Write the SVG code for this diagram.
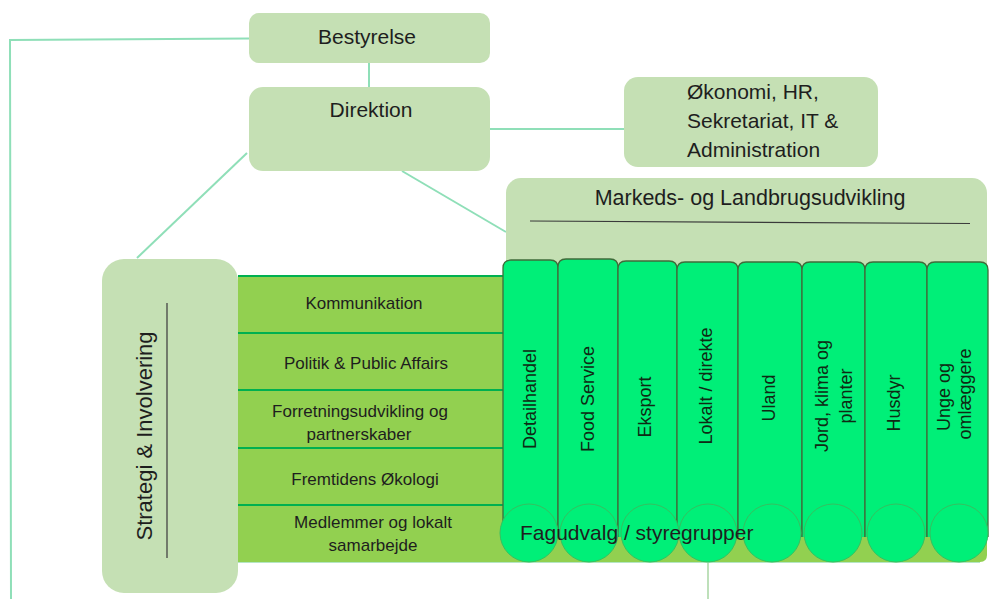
<svg xmlns="http://www.w3.org/2000/svg" width="989" height="599" viewBox="0 0 989 599">
<style>
.box{fill:#c5e0b4}
.t{font-family:"Liberation Sans",Arial,sans-serif;fill:#1e1e1e}
.h{font-size:21px}
.r{font-size:17px;text-anchor:middle}
.c{font-size:18px;text-anchor:middle;fill:#0f2a14}
.conn{stroke:#8fdfb8;stroke-width:2;fill:none}
.col{fill:#00ef78;stroke:#3f6b3a;stroke-width:1.3}
.circ{fill:#00ef78;stroke:#35c060;stroke-width:1}
.sep{stroke:#00b050;stroke-width:2}
</style>
<rect width="989" height="599" fill="#ffffff"/>

<g id="connectors">
<polyline class="conn" points="249,38.5 10,40 11,599"/>
<line class="conn" x1="369" y1="63" x2="369" y2="87"/>
<line class="conn" x1="490" y1="129" x2="624" y2="129"/>
<line class="conn" x1="247" y1="153" x2="137" y2="258"/>
<line class="conn" x1="402" y1="171" x2="506" y2="232"/>
<line x1="708" y1="562" x2="708" y2="599" stroke="#a9d6a3" stroke-width="1.5"/>
</g>

<g id="bestyrelse">
<rect class="box" x="249" y="13" width="241" height="50" rx="10"/>
<text class="t h" x="367" y="44" text-anchor="middle">Bestyrelse</text>
</g>

<g id="direktion">
<rect class="box" x="249" y="87" width="241" height="84" rx="14"/>
<text class="t h" x="371" y="117" text-anchor="middle">Direktion</text>
</g>

<g id="okonomi">
<rect class="box" x="624" y="77" width="254" height="90" rx="14"/>
<text class="t h" x="687" y="99">Økonomi, HR,</text>
<text class="t h" x="687" y="128">Sekretariat, IT &amp;</text>
<text class="t h" x="687" y="157">Administration</text>
</g>

<g id="markeds">
<rect class="box" x="506" y="178" width="481" height="140" rx="15"/>
<text class="t" x="750" y="205" font-size="21.5" text-anchor="middle">Markeds- og Landbrugsudvikling</text>
<line x1="530" y1="221" x2="970" y2="223.5" stroke="#3a3a3a" stroke-width="1.2"/>
</g>

<g id="rows">
<path d="M238,275 H987 V555 Q987,562 980,562 H238 Z" fill="#92d050"/>
<line x1="238" y1="562.5" x2="980" y2="562.5" stroke="#b4e6c4" stroke-width="1"/>
<line class="sep" x1="238" y1="276" x2="505" y2="276"/>
<line class="sep" x1="238" y1="333" x2="505" y2="333"/>
<line class="sep" x1="238" y1="390" x2="505" y2="390"/>
<line class="sep" x1="238" y1="448" x2="505" y2="448"/>
<line class="sep" x1="238" y1="505" x2="505" y2="505"/>
</g>

<g id="row-kommunikation"><text class="t r" x="364" y="309">Kommunikation</text></g>
<g id="row-politik"><text class="t r" x="366" y="369">Politik &amp; Public Affairs</text></g>
<g id="row-forretning"><text class="t r" x="360" y="417">Forretningsudvikling og</text><text class="t r" x="359" y="440">partnerskaber</text></g>
<g id="row-fremtidens"><text class="t r" x="365" y="485">Fremtidens Økologi</text></g>
<g id="row-medlemmer"><text class="t r" x="373" y="528">Medlemmer og lokalt</text><text class="t r" x="373" y="551">samarbejde</text></g>

<g id="strategi">
<rect class="box" x="102" y="259" width="136" height="334" rx="22"/>
<text class="t" font-size="22" text-anchor="middle" transform="translate(152,436) rotate(-90)">Strategi &amp; Involvering</text>
<line x1="167" y1="303" x2="167" y2="558" stroke="#444" stroke-width="1.3"/>
</g>

<g id="col-detailhandel">
<path class="col" d="M503,537 V268 Q503,260 511,260 H550 Q558,260 558,268 V537"/>
<text class="t c" transform="translate(536,399) rotate(-90)">Detailhandel</text>
</g>
<g id="col-food">
<path class="col" d="M558,537 V267 Q558,259 566,259 H610 Q618,259 618,267 V537"/>
<text class="t c" transform="translate(594,399) rotate(-90)">Food Service</text>
</g>
<g id="col-eksport">
<path class="col" d="M618,537 V269 Q618,261 626,261 H669 Q677,261 677,269 V537"/>
<text class="t c" transform="translate(651,407) rotate(-90)">Eksport</text>
</g>
<g id="col-lokalt">
<path class="col" d="M677,537 V270 Q677,262 685,262 H730 Q738,262 738,270 V537"/>
<text class="t c" transform="translate(712,386) rotate(-90)">Lokalt / direkte</text>
</g>
<g id="col-uland">
<path class="col" d="M738,537 V270 Q738,262 746,262 H794 Q802,262 802,270 V537"/>
<text class="t c" transform="translate(775,398) rotate(-90)">Uland</text>
</g>
<g id="col-jord">
<path class="col" d="M802,537 V270 Q802,262 810,262 H857 Q865,262 865,270 V537"/>
<text class="t c" transform="translate(828,396) rotate(-90)">Jord, klima og</text>
<text class="t c" transform="translate(852,396) rotate(-90)">planter</text>
</g>
<g id="col-husdyr">
<path class="col" d="M865,537 V270 Q865,262 873,262 H919 Q927,262 927,270 V537"/>
<text class="t c" transform="translate(900,403) rotate(-90)">Husdyr</text>
</g>
<g id="col-unge">
<path class="col" d="M927,537 V270 Q927,262 935,262 H980 Q988,262 988,270 V537"/>
<text class="t c" transform="translate(950,397) rotate(-90)">Unge og</text>
<text class="t c" transform="translate(971,394) rotate(-90)">omlæggere</text>
</g>

<g id="fagudvalg">
<circle class="circ" cx="529" cy="533" r="29"/>
<circle class="circ" cx="589" cy="533" r="29"/>
<circle class="circ" cx="650" cy="533" r="29"/>
<circle class="circ" cx="708" cy="533" r="29"/>
<circle class="circ" cx="772" cy="533" r="29"/>
<circle class="circ" cx="833" cy="533" r="29"/>
<circle class="circ" cx="896" cy="533" r="29"/>
<circle class="circ" cx="959" cy="533" r="29"/>
<text class="t" x="520" y="540" font-size="21" fill="#0f1f12">Fagudvalg / styregrupper</text>
</g>
</svg>
